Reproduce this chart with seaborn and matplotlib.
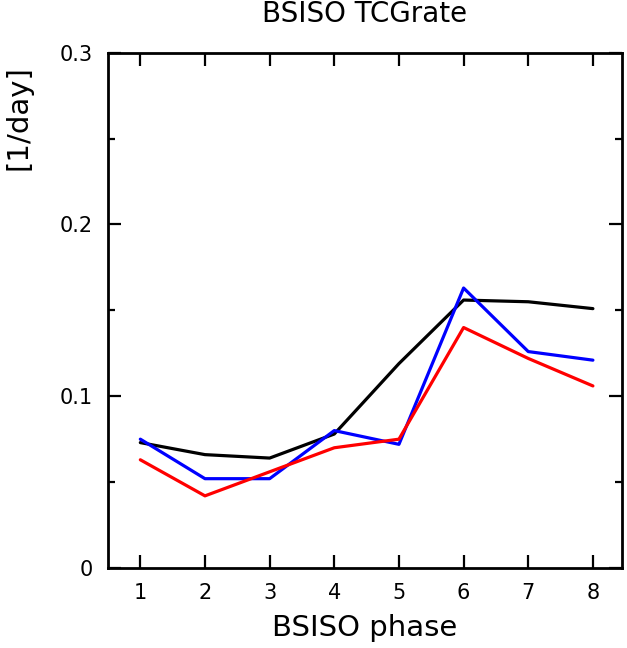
import matplotlib
matplotlib.use("Agg")
import matplotlib.pyplot as plt
import seaborn as sns
import pandas as pd
from matplotlib.ticker import MultipleLocator, FixedLocator, FixedFormatter

phases = [1, 2, 3, 4, 5, 6, 7, 8]
black_vals = [0.073, 0.066, 0.064, 0.078, 0.119, 0.156, 0.155, 0.151]
blue_vals = [0.075, 0.052, 0.052, 0.080, 0.072, 0.163, 0.126, 0.121]
red_vals = [0.063, 0.042, 0.056, 0.070, 0.075, 0.140, 0.122, 0.106]
series_names = ["black", "blue", "red"]
series_colors = ["#000000", "#0000ff", "#ff0000"]
yticks = [0, 0.1, 0.2, 0.3]
ytick_labels = ["0", "0.1", "0.2", "0.3"]

df = pd.DataFrame({
    "phase": phases * 3,
    "rate": black_vals + blue_vals + red_vals,
    "series": [s for s in series_names for _ in phases],
})

sns.set_theme(style="ticks")
plt.rcParams["font.family"] = ["DejaVu Sans"]
plt.rcParams["text.color"] = "black"
plt.rcParams["axes.labelcolor"] = "black"
plt.rcParams["xtick.color"] = "black"
plt.rcParams["ytick.color"] = "black"

fig = plt.figure(figsize=(6.27, 6.48), dpi=100)
ax = fig.add_axes([108 / 627, 80 / 648, 514 / 627, 515.3 / 648])

sns.lineplot(data=df, x="phase", y="rate", hue="series",
             palette=dict(zip(series_names, series_colors)),
             linewidth=2.3, legend=False, ax=ax)

ax.set_xlim(0.5, 8.45)
ax.set_ylim(0, 0.3)
ax.xaxis.set_major_locator(FixedLocator(phases))
ax.yaxis.set_major_locator(FixedLocator(yticks))
ax.yaxis.set_major_formatter(FixedFormatter(ytick_labels))
ax.yaxis.set_minor_locator(MultipleLocator(0.05))

for s in ax.spines.values():
    s.set_visible(True)
    s.set_linewidth(2.0)
    s.set_color("black")

ax.tick_params(which="major", direction="in", length=9.5, width=1.6,
               top=True, right=True, labelsize=15, colors="black")
ax.tick_params(axis="x", which="major", pad=11)
ax.tick_params(axis="y", which="major", pad=11)
ax.tick_params(axis="y", which="minor", direction="in", length=5, width=1.6,
               left=True, right=True, colors="black")

ax.set_title("BSISO TCGrate", fontsize=20, pad=22, color="black")
ax.set_xlabel("BSISO phase", fontsize=21, labelpad=8, color="black")
ax.set_ylabel("[1/day]", fontsize=21, color="black")
ax.yaxis.set_label_coords(-0.146, 0.875)

fig.savefig("out.png", dpi=100)
